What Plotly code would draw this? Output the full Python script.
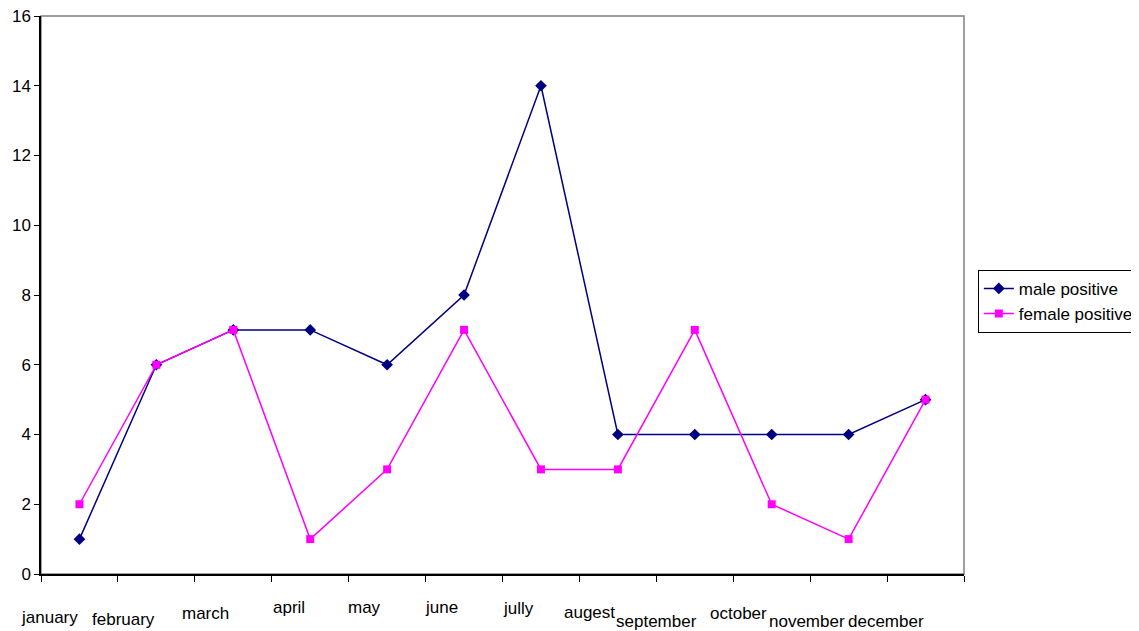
import plotly.graph_objects as go

months = ["january", "february", "march", "april", "may", "june",
          "jully", "augest", "september", "october", "november", "december"]
male_positive = [1, 6, 7, 7, 6, 8, 14, 4, 4, 4, 4, 5]
female_positive = [2, 6, 7, 1, 3, 7, 3, 3, 7, 2, 1, 5]
y_ticks = [0, 2, 4, 6, 8, 10, 12, 14, 16]

# layout offsets for the staggered category labels (pixels)
label_dx = [-30, -33, -28, -21, -23, -23, -22, -28, -38, -33, -42, -40]
label_dy = [-43, -45, -39, -33, -33, -33, -34, -38, -47, -39, -47, -47]

FONT = "Liberation Sans, Arial, sans-serif"

fig = go.Figure()
fig.add_trace(go.Scatter(
    x=months, y=male_positive, name="male positive", mode="lines+markers",
    line=dict(color="#000080", width=1.5),
    marker=dict(symbol="diamond", size=9, color="#000080"),
))
fig.add_trace(go.Scatter(
    x=months, y=female_positive, name="female positive", mode="lines+markers",
    line=dict(color="#FF00FF", width=1.5),
    marker=dict(symbol="square", size=8, color="#FF00FF"),
))

annotations = []
for m, dx, dy in zip(months, label_dx, label_dy):
    annotations.append(dict(
        x=m, xref="x", y=0, yref="paper", text=m, showarrow=False,
        xanchor="center", yanchor="middle", xshift=dx, yshift=dy,
        font=dict(family=FONT, size=17, color="black"),
    ))

# the page places the figure 8px from the top-left corner
fig.update_layout(
    width=1131, height=623,
    margin=dict(l=33, r=175, t=8, b=57, autoexpand=False),
    paper_bgcolor="white", plot_bgcolor="white",
    font=dict(family=FONT, size=17, color="black"),
    showlegend=True,
    legend=dict(
        x=1.015, y=0.545, xanchor="left", yanchor="top",
        bordercolor="black", borderwidth=1, bgcolor="white",
        font=dict(family=FONT, size=17, color="black"),
        itemwidth=30, tracegroupgap=0,
    ),
    annotations=annotations,
    shapes=[dict(type="rect", xref="paper", yref="paper", x0=0, y0=0, x1=1, y1=1,
                 line=dict(color="#808080", width=1.5), layer="below")],
)
fig.update_xaxes(
    type="category", showgrid=False, zeroline=False,
    showline=True, linecolor="black", linewidth=1.5,
    ticks="outside", tickson="boundaries", ticklen=6, tickcolor="black",
    showticklabels=False, range=[-0.5, 11.5],
)
fig.update_yaxes(
    range=[0, 16], tickvals=y_ticks, showgrid=False, zeroline=False,
    showline=True, linecolor="black", linewidth=1.5,
    ticks="outside", ticklen=5, tickcolor="black",
    ticklabeloverflow="allow",
    tickfont=dict(family=FONT, size=17, color="black"),
)

fig.write_html("out.html")
